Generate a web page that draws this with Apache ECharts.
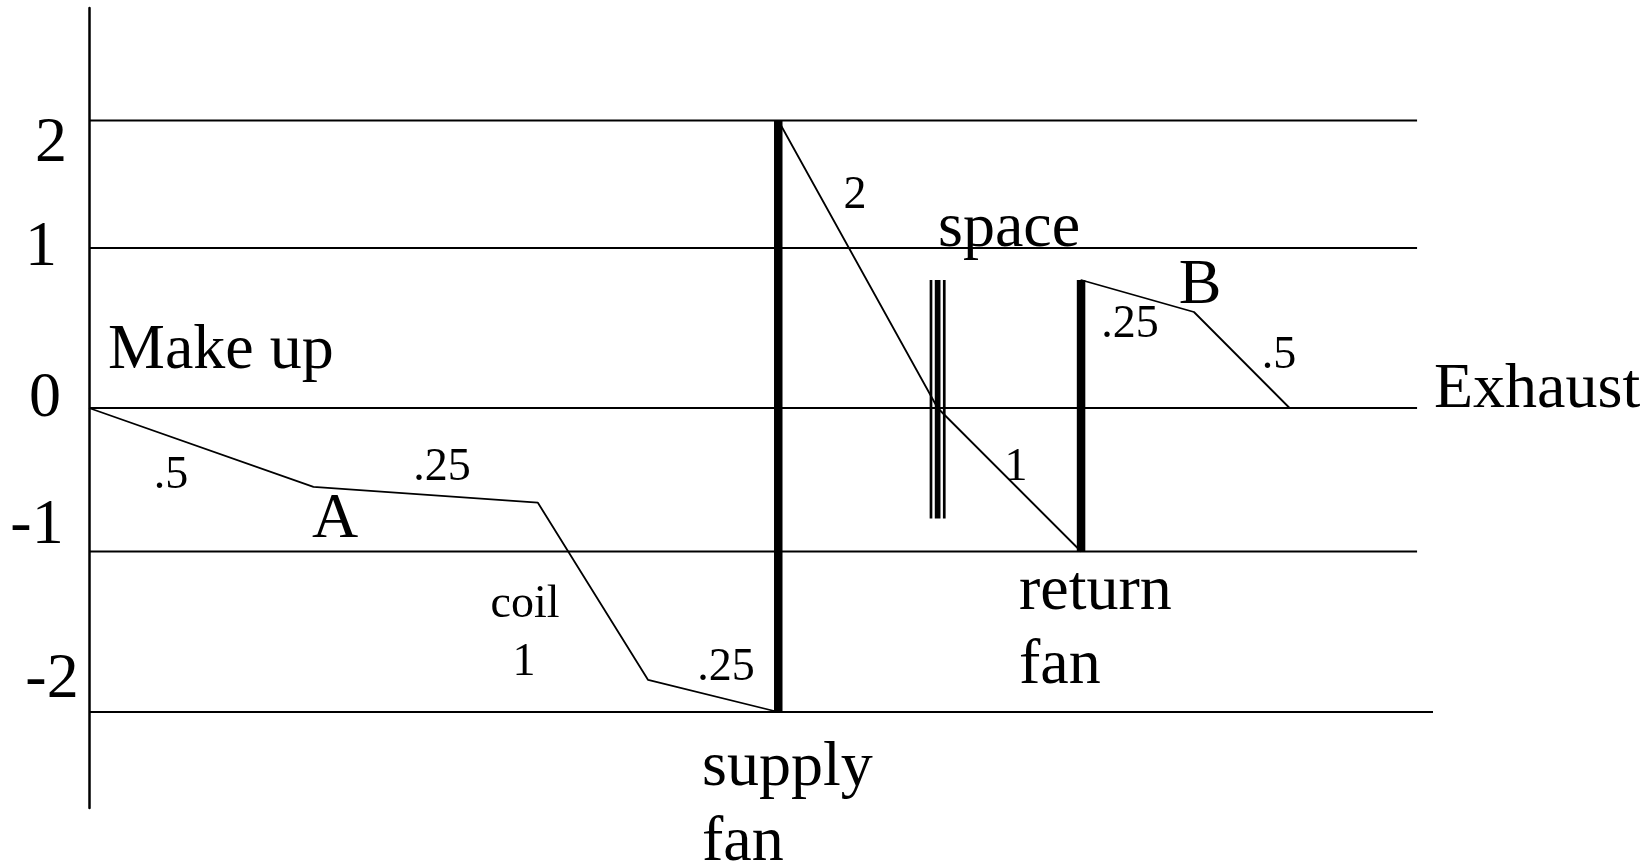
<!DOCTYPE html>
<html>
<head>
<meta charset="utf-8">
<title>Duct pressure diagram</title>
<script src="https://cdn.jsdelivr.net/npm/echarts@6/dist/echarts.min.js"></script>
<style>
  html, body { margin: 0; padding: 0; background: #fff; }
  #chart { width: 1651px; height: 866px; }
</style>
</head>
<body>
<div id="chart"></div>
<script>
// pressure levels (in. w.g.) and their labels
const levels = [2, 1, 0, -1, -2];
const tickLabels = ['2', '1', '0', '-1', '-2'];
const levelEnd = [100, 100, 100, 100, 101.2];

// air path: position along the system and static pressure
const pathX = [0, 16.9, 33.8, 42.1, 51.9, 51.9, 63.9, 74.7, 74.7, 83.2, 90.4];
const pathP = [0, -0.55, -0.66, -1.8, -2, 2, 0, -1, 0.8, 0.6, 0];

// fans: position, pressure in, pressure out
const fanX = [51.9, 74.7];
const fanIn = [-2, -1];
const fanOut = [2, 0.8];

// the space, drawn as a wall of three strokes
const spaceX = [63.4, 63.9, 64.4];
const spaceP = [0.8, -0.77];

const dropLabels = ['.5', '.25', 'coil', '1', '.25', '2', '1', '.25', '.5'];
const nameLabels = ['Make up', 'A', 'supply', 'fan', 'space', 'return', 'fan', 'B', 'Exhaust'];

// the sketch does not space its levels evenly: where each level sits on the drawing
const levelRow = [2.875, 1.6, 0, -1.435, -3.04];
function row(p) {
  for (let i = 0; i < levels.length - 1; i++) {
    const a = levels[i], b = levels[i + 1];
    if (p <= a && p >= b) {
      return levelRow[i] + (p - a) / (b - a) * (levelRow[i + 1] - levelRow[i]);
    }
  }
  return p > levels[0] ? levelRow[0] : levelRow[levelRow.length - 1];
}

const chart = echarts.init(document.getElementById('chart'));

const BIG = 64, SMALL = 46;
const FONT = '"Liberation Serif", "Times New Roman", serif';

// text placement: [x, baseline, align]
const tickPos = [[51, 161], [41, 265], [45, 416], [37, 543], [52, 697]];
const dropPos = [[171, 488], [442, 480], [525, 617], [524, 675], [726, 680], [855, 208], [1016, 480], [1130, 337], [1279, 368]];
const namePos = [[108, 368, 'left'], [335, 537, 'center'], [702, 785, 'left'], [702, 860, 'left'], [938, 246, 'left'],
  [1019, 609, 'left'], [1019, 683, 'left'], [1200, 303, 'center'], [1434, 407, 'left']];

function text(t, x, base, size, align) {
  return {
    type: 'text', x: x, y: base - 0.26 * size, silent: true,
    style: { text: t, font: size + 'px ' + FONT, fill: '#000', align: align, verticalAlign: 'middle' }
  };
}

const graphics = []
  .concat(tickLabels.map((t, i) => text(t, tickPos[i][0], tickPos[i][1], BIG, 'center')))
  .concat(dropLabels.map((t, i) => text(t, dropPos[i][0], dropPos[i][1], SMALL, 'center')))
  .concat(nameLabels.map((t, i) => text(t, namePos[i][0], namePos[i][1], BIG, namePos[i][2])));

const black = '#000';
const series = [];

levels.forEach((lv, i) => {
  series.push({
    type: 'line', symbol: 'none', silent: true, z: 1,
    lineStyle: { color: black, width: 2 },
    data: [[0, row(lv)], [levelEnd[i], row(lv)]]
  });
});

series.push({
  type: 'line', symbol: 'none', silent: true, z: 2,
  lineStyle: { color: black, width: 1.8 },
  data: pathX.map((x, i) => [x, row(pathP[i])])
});

[2.7, 5.7, 2.7].forEach((w, i) => {
  series.push({
    type: 'line', symbol: 'none', silent: true, z: 3,
    lineStyle: { color: black, width: w },
    data: spaceP.map(p => [spaceX[i], row(p)])
  });
});

fanX.forEach((x, i) => {
  series.push({
    type: 'line', symbol: 'none', silent: true, z: 4,
    lineStyle: { color: black, width: 8.5, cap: 'butt' },
    data: [[x, row(fanIn[i])], [x, row(fanOut[i])]]
  });
});

chart.setOption({
  animation: false,
  backgroundColor: '#fff',
  grid: { left: 89, right: 218, top: 8, bottom: 58 },
  xAxis: { type: 'value', min: 0, max: 101.2, show: false },
  yAxis: {
    type: 'value', min: -4, max: 4,
    axisLine: { show: true, onZero: false, lineStyle: { color: black, width: 2.5 } },
    axisTick: { show: false }, axisLabel: { show: false }, splitLine: { show: false }
  },
  series: series,
  graphic: graphics
});
</script>
</body>
</html>
